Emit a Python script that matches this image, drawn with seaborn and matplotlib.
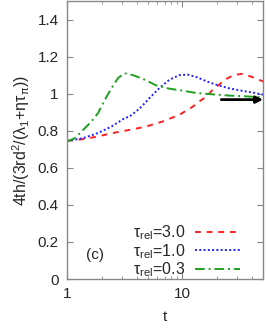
import matplotlib
matplotlib.use("Agg")
import matplotlib.pyplot as plt
import matplotlib.ticker as mticker
import pandas as pd
import seaborn as sns

# ratio curves, t on a log axis
t_red = [1.0, 1.2, 1.45, 1.8, 2.2, 2.7, 3.5, 4.87, 6.76, 9.4, 12.3, 14, 16.3, 18,
         23.5, 27.7, 32.6, 38.6, 44, 50]
r_red = [0.745, 0.75, 0.757, 0.768, 0.78, 0.792, 0.805, 0.823, 0.85, 0.886, 0.93,
         0.958, 0.986, 1.016, 1.076, 1.10, 1.107, 1.094, 1.08, 1.066]

t_blue = [1.0, 1.38, 1.86, 2.43, 3.16, 3.49, 4.26, 5.2, 6.3, 7.7, 9.4, 11.1, 13.5,
          15.7, 19.2, 25, 32.6, 42.4, 50]
r_blue = [0.745, 0.76, 0.788, 0.823, 0.868, 0.877, 0.92, 0.977, 1.03, 1.075, 1.10,
          1.103, 1.088, 1.07, 1.05, 1.03, 1.016, 1.004, 0.995]

t_green = [1.0, 1.17, 1.38, 1.63, 1.86, 2.13, 2.43, 2.77, 3.16, 3.73, 4.54, 5.92,
           7.7, 10.05, 13.1, 16.9, 25, 34.9, 50]
r_green = [0.742, 0.76, 0.805, 0.85, 0.896, 0.968, 1.03, 1.085, 1.11, 1.10, 1.08,
           1.045, 1.027, 1.016, 1.004, 0.998, 0.99, 0.986, 0.98]

labels = ["τ$_{\\rm rel}$=3.0", "τ$_{\\rm rel}$=1.0", "τ$_{\\rm rel}$=0.3"]
colors = ["#ff2020", "#2020ff", "#20a020"]
dashes = [(3, 3), (1, 1.2), (5, 2, 1, 2)]

arrow_t = [21.7, 50]
arrow_y = 0.968

sns.set_style("ticks")
plt.rcParams["font.family"] = ["Liberation Sans", "DejaVu Sans"]
plt.rcParams["mathtext.fontset"] = "custom"
plt.rcParams["mathtext.rm"] = "Liberation Sans"
plt.rcParams["mathtext.it"] = "Liberation Sans"

fig = plt.figure(figsize=(2.66, 3.33), dpi=100)
ax = fig.add_axes([0.252, 0.162, 0.737, 0.835])

for ts, rs, lab, c, d in zip([t_red, t_blue, t_green], [r_red, r_blue, r_green],
                             labels, colors, dashes):
    df = pd.DataFrame({"t": ts, "r": rs})
    sns.lineplot(data=df, x="t", y="r", ax=ax, color=c, lw=1.4,
                 label=lab, dashes=False)
    ax.lines[-1].set_dashes(d)

ax.annotate("", xy=(arrow_t[1], arrow_y), xytext=(arrow_t[0], arrow_y),
            arrowprops=dict(arrowstyle="-|>", color="black", lw=2,
                            mutation_scale=10, shrinkA=0, shrinkB=0))

ax.set_xscale("log")
ax.set_xlim(1, 50)
ax.set_ylim(0, 1.5)
ax.set_yticks([0, 0.2, 0.4, 0.6, 0.8, 1.0, 1.2, 1.4])
ax.yaxis.set_major_formatter(mticker.FormatStrFormatter("%g"))
ax.xaxis.set_major_formatter(mticker.FormatStrFormatter("%g"))
ax.xaxis.set_minor_formatter(mticker.NullFormatter())
ax.tick_params(direction="in", top=True, right=True, which="both",
               labelsize=11, color="#888888", pad=6)
ax.tick_params(which="major", length=4)
ax.tick_params(which="minor", length=2)
for s in ax.spines.values():
    s.set_color("#888888")
    s.set_linewidth(1)

ax.set_xlabel("t", fontsize=11, labelpad=6)
ax.set_ylabel("4th/(3rd$^2$/(λ$_1$+ητ$_{\\rm π}$))", fontsize=11.5, labelpad=4)
ax.text(1.45, 0.11, "(c)", fontsize=11)

leg = ax.legend(loc="lower right", bbox_to_anchor=(0.93, -0.035), frameon=False,
                markerfirst=False, fontsize=11.5, handlelength=2.8,
                labelspacing=0.0, handletextpad=0.6, borderaxespad=0.2)
for h in leg.get_lines():
    h.set_linewidth(1.4)

fig.savefig("out.png", dpi=100)
